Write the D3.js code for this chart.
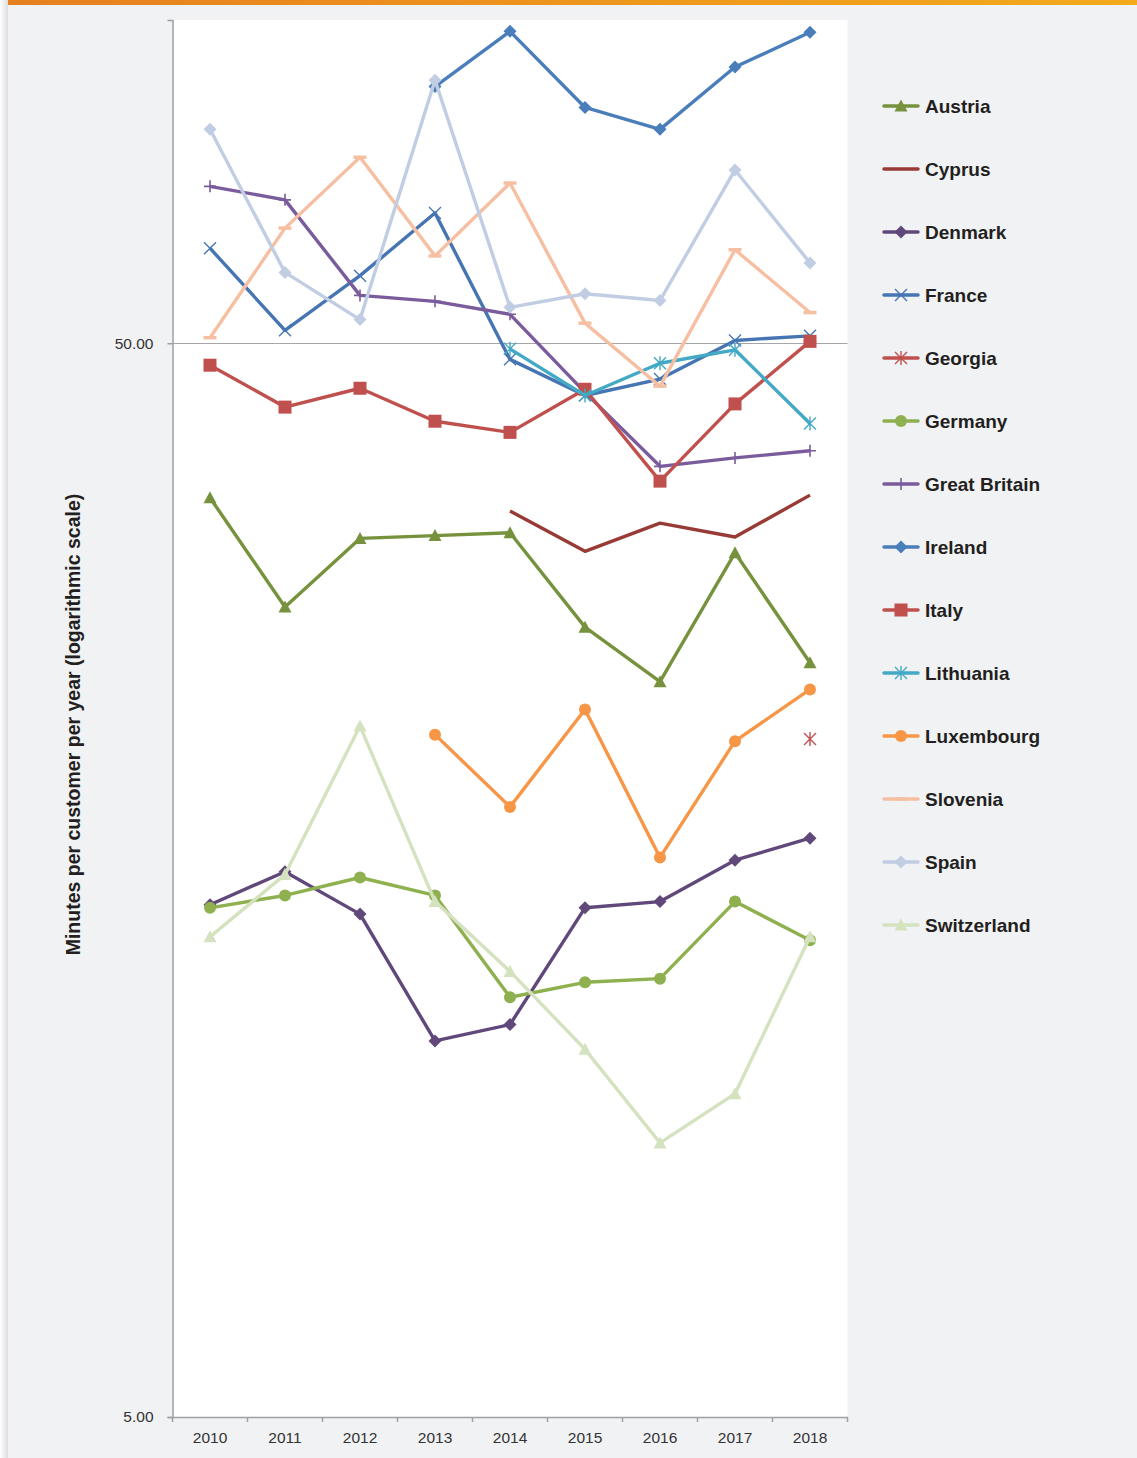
<!DOCTYPE html>
<html><head><meta charset="utf-8">
<script src="https://cdn.jsdelivr.net/npm/d3@7"></script>
<style>body{margin:0;background:#f1f2f4;}svg{display:block;}</style>
</head><body>
<script>
const years = ["2010","2011","2012","2013","2014","2015","2016","2017","2018"];
const yTicks = [5, 50];
const seriesNames = ["Austria","Cyprus","Denmark","France","Georgia","Germany","Great Britain","Ireland","Italy","Lithuania","Luxembourg","Slovenia","Spain","Switzerland"];
const austria      = [35.9, 28.4, 32.9, 33.1, 33.3, 27.2, 24.2, 31.9, 25.2];
const cyprus       = [null, null, null, null, 34.9, 32.0, 34.0, 33.0, 36.1];
const denmark      = [15.0, 16.1, 14.7, 11.2, 11.6, 14.9, 15.1, 16.5, 17.3];
const france       = [61.3, 51.4, 57.8, 66.1, 48.3, 44.7, 46.3, 50.3, 50.8];
const georgia      = [null, null, null, null, null, null, null, null, 21.4];
const germany      = [14.9, 15.3, 15.9, 15.3, 12.3, 12.7, 12.8, 15.1, 13.9];
const greatBritain = [70.0, 68.0, 55.4, 54.7, 53.2, 45.0, 38.4, 39.1, 39.7];
const ireland      = [null, null, null, 86.7, 97.6, 82.9, 79.1, 90.4, 97.4];
const italy        = [47.7, 43.6, 45.4, 42.3, 41.3, 45.3, 37.2, 43.9, 50.2];
const lithuania    = [null, null, null, null, 49.4, 44.7, 47.9, 49.3, 42.1];
const luxembourg   = [null, null, null, 21.6, 18.5, 22.8, 16.6, 21.3, 23.8];
const slovenia     = [50.6, 64.0, 74.5, 60.3, 70.5, 52.2, 45.6, 61.1, 53.4];
const spain        = [79.1, 58.2, 52.6, 87.9, 54.0, 55.6, 54.8, 72.5, 59.4];
const switzerland  = [14.0, 16.0, 22.0, 15.1, 13.0, 11.0, 9.0, 10.0, 14.0];

const seriesValues = [austria, cyprus, denmark, france, georgia, germany, greatBritain, ireland, italy, lithuania, luxembourg, slovenia, spain, switzerland];
const seriesColors = ["#76923c","#983a35","#60497a","#4675b3","#c0504d","#8eb04f","#7a5b9c","#4a7ebb","#c0504d","#43a9c4","#f79646","#f7bfa2","#c1cde2","#d4e2c0"];
const seriesMarkers = ["triangle","none","diamond","x","asterisk","circle","plus","diamond","square","asterisk","circle","dash","diamond","triangle"];

(function(){
const W = 1137, H = 1458;
const svg = d3.select("body").append("svg").attr("width", W).attr("height", H);

const defs = svg.append("defs");
const og = defs.append("linearGradient").attr("id","og").attr("x1","0").attr("x2","1");
og.append("stop").attr("offset","0").attr("stop-color","#e6801f");
og.append("stop").attr("offset","1").attr("stop-color","#f4aa1c");
const sg = defs.append("linearGradient").attr("id","sg").attr("x1","0").attr("x2","1");
sg.append("stop").attr("offset","0").attr("stop-color","#ffffff");
sg.append("stop").attr("offset","1").attr("stop-color","#dcdcde");
svg.append("rect").attr("x",0).attr("y",0).attr("width",W).attr("height",H).attr("fill","#f1f2f4");
svg.append("rect").attr("x",0).attr("y",0).attr("width",8).attr("height",H).attr("fill","url(#sg)");
svg.append("rect").attr("x",8).attr("y",0).attr("width",W-8).attr("height",5).attr("fill","url(#og)");

const pL = 172.5, pR = 847.5, pT = 20, pB = 1417;
const x = d3.scaleBand().domain(years).range([pL, pR]);
const y = d3.scaleLog().domain([5, 100]).range([pB, pT]);
const cx = d => x(d) + x.bandwidth()/2;

svg.append("rect").attr("x",pL).attr("y",pT).attr("width",pR-pL).attr("height",pB-pT).attr("fill","#ffffff");

svg.append("line").attr("x1",pL).attr("x2",pR).attr("y1",Math.round(y(50))+0.5).attr("y2",Math.round(y(50))+0.5)
  .attr("stroke","#a6a6a6").attr("stroke-width",1.2);

const yAxis = d3.axisLeft(y).tickValues(yTicks).tickFormat(d3.format(".2f")).tickSize(5).tickPadding(14);
const gy = svg.append("g").attr("transform",`translate(${pL},0)`).call(yAxis);
gy.select(".domain").attr("stroke","#a0a0a0").attr("stroke-width",1.5);
gy.selectAll(".tick line").attr("stroke","#a0a0a0").attr("stroke-width",1.5);
gy.selectAll(".tick text").attr("font-family","'Liberation Sans', Arial, sans-serif").attr("font-size",15.5).attr("fill","#333");

const xAxis = d3.axisBottom(x).tickSize(0).tickPadding(15);
const gx = svg.append("g").attr("transform",`translate(0,${pB})`).call(xAxis);
gx.select(".domain").attr("stroke","#a0a0a0").attr("stroke-width",1.5);
gx.selectAll(".tick text").attr("font-family","'Liberation Sans', Arial, sans-serif").attr("font-size",15.5).attr("fill","#333");
const bounds = years.map(d => x(d)).concat([pR]);
svg.append("g").selectAll("line").data(bounds).join("line")
  .attr("x1",d=>d).attr("x2",d=>d).attr("y1",pB).attr("y2",pB+5)
  .attr("stroke","#a0a0a0").attr("stroke-width",1.5);

svg.append("text").attr("transform",`translate(80,${(pT+pB)/2+6}) rotate(-90)`)
  .attr("text-anchor","middle").attr("font-family","'Liberation Sans', Arial, sans-serif")
  .attr("font-weight","bold").attr("font-size",19.5).attr("fill","#231f20")
  .text("Minutes per customer per year (logarithmic scale)");

function marker(g, type, px, py, color) {
  const s = 6;
  if (type === "triangle") {
    g.append("path").attr("d",`M${px},${py-6.5}L${px+6.5},${py+5.5}L${px-6.5},${py+5.5}Z`).attr("fill",color);
  } else if (type === "diamond") {
    g.append("path").attr("d",`M${px},${py-6.5}L${px+6.5},${py}L${px},${py+6.5}L${px-6.5},${py}Z`).attr("fill",color);
  } else if (type === "square") {
    g.append("rect").attr("x",px-6.5).attr("y",py-6.5).attr("width",13).attr("height",13).attr("fill",color);
  } else if (type === "circle") {
    g.append("circle").attr("cx",px).attr("cy",py).attr("r",6).attr("fill",color);
  } else if (type === "x") {
    g.append("path").attr("d",`M${px-s},${py-s}L${px+s},${py+s}M${px-s},${py+s}L${px+s},${py-s}`).attr("stroke",color).attr("stroke-width",1.4).attr("fill","none");
  } else if (type === "plus") {
    g.append("path").attr("d",`M${px-s},${py}L${px+s},${py}M${px},${py-s}L${px},${py+s}`).attr("stroke",color).attr("stroke-width",1.6).attr("fill","none");
  } else if (type === "asterisk") {
    g.append("path").attr("d",`M${px-s},${py-s}L${px+s},${py+s}M${px-s},${py+s}L${px+s},${py-s}M${px},${py-s-1}L${px},${py+s+1}`).attr("stroke",color).attr("stroke-width",1.4).attr("fill","none");
  } else if (type === "dash") {
    g.append("path").attr("d",`M${px-6.5},${py}L${px+6.5},${py}`).attr("stroke",color).attr("stroke-width",3.5).attr("fill","none");
  }
}

const line = d3.line().defined(d => d.v != null).x(d => cx(d.year)).y(d => y(d.v));
const plot = svg.append("g");
seriesNames.forEach((name, i) => {
  const data = years.map((yr, j) => ({year: yr, v: seriesValues[i][j]}));
  const g = plot.append("g");
  g.append("path").datum(data).attr("d", line).attr("fill","none")
    .attr("stroke", seriesColors[i]).attr("stroke-width", 3.4).attr("stroke-linejoin","round");
  data.filter(d => d.v != null).forEach(d => marker(g, seriesMarkers[i], cx(d.year), y(d.v), seriesColors[i]));
});

const lg = svg.append("g");
seriesNames.forEach((name, i) => {
  const ly = 106 + i * 63;
  lg.append("line").attr("x1",884).attr("x2",918).attr("y1",ly).attr("y2",ly)
    .attr("stroke",seriesColors[i]).attr("stroke-width",3.5).attr("stroke-linecap","round");
  marker(lg, seriesMarkers[i], 901, ly, seriesColors[i]);
  lg.append("text").attr("x",925).attr("y",ly+6.5).attr("font-family","'Liberation Sans', Arial, sans-serif")
    .attr("font-weight","bold").attr("font-size",19).attr("fill","#231f20").text(name);
});
})();
</script>
</body></html>
